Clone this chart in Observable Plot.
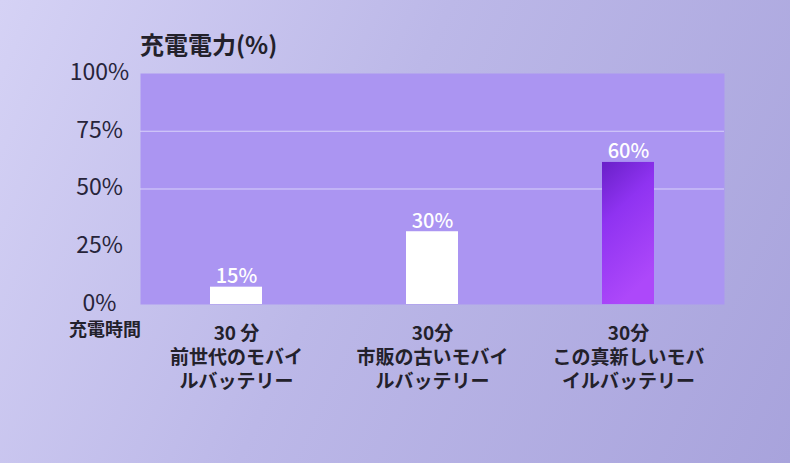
<!DOCTYPE html>
<html>
<head>
<meta charset="utf-8">
<script src="https://cdn.jsdelivr.net/npm/d3@7"></script>
<script src="https://cdn.jsdelivr.net/npm/@observablehq/plot@0.6"></script>
<style>
  html, body { margin: 0; padding: 0; }
  body { width: 790px; height: 463px; overflow: hidden; }
  #wrap {
    position: relative; width: 790px; height: 463px;
    background: linear-gradient(115deg, #d5d2f5 0%, #bcb8e8 45%, #a8a3dc 100%);
    font-family: "Noto Sans CJK JP", "Noto Sans", sans-serif;
  }
  #title {
    position: absolute; left: 140px; top: 28px; margin: 0;
    font-size: 24px; font-weight: 700; color: #23212b; line-height: 32px;
  }
  #xname {
    position: absolute; right: 649px; top: 316px; margin: 0;
    font-size: 18px; font-weight: 700; color: #23212b; line-height: 24px;
  }
  #chart { position: absolute; left: 0; top: 0; }
  svg { background: transparent !important; }
</style>
</head>
<body>
<div id="wrap">
  <div id="chart"></div>
  <p id="title">充電電力(%)</p>
  <p id="xname">充電時間</p>
</div>
<script>
const categories = ["前世代", "市販の古い", "この真新しい"];
const xLabels = ["30 分\n前世代のモバイ\nルバッテリー", "30分\n市販の古いモバイ\nルバッテリー", "30分\nこの真新しいモバ\nイルバッテリー"];
const valueLabels = ["15%", "30%", "60%"];
const barHeights = [7.5, 31.5, 61.5];
const yTicks = [0, 25, 50, 75, 100];
const gridTicks = [50, 75];

const data = categories.map((c, i) => ({cat: c, h: barHeights[i], label: valueLabels[i], i}));

const chart = Plot.plot({
  width: 790,
  height: 463,
  marginLeft: 140,
  marginRight: 66,
  marginTop: 73,
  marginBottom: 159,
  style: {background: "transparent", fontFamily: "'Noto Sans CJK JP', 'Noto Sans', sans-serif"},
  x: {domain: categories, paddingInner: 0.7347, paddingOuter: 0.357, axis: null, label: null},
  y: {domain: [0, 100], axis: null, label: null},
  marks: [
    Plot.frame({fill: "#ab95f2", stroke: null}),
    Plot.gridY(gridTicks, {stroke: "#d9d2fa", strokeOpacity: 1, strokeWidth: 1}),
    Plot.barY(data, {x: "cat", y: "h", fill: d => d.i === 2 ? "url(#purpleGrad)" : "#ffffff"}),
    Plot.text(data, {x: "cat", y: "h", text: "label", lineAnchor: "bottom", dy: -4, fill: "#ffffff", fontSize: 20, fontWeight: 500}),
    Plot.axisY(yTicks, {label: null, tickSize: 0, tickPadding: 41, textAnchor: "middle", tickFormat: d => d + "%", fontSize: 23, fontWeight: 400, fill: "#27243a", dy: -1}),
    Plot.axisX(categories, {label: null, tickSize: 0, tickPadding: 19, tickFormat: d => xLabels[categories.indexOf(d)], fontSize: 19, fontWeight: 700, fill: "#23212b", lineHeight: 1.25})
  ]
});

const svg = d3.select(chart);
const defs = svg.insert("defs", ":first-child");
const g = defs.append("linearGradient").attr("id", "purpleGrad")
  .attr("x1", "0").attr("y1", "0").attr("x2", "0.35").attr("y2", "1");
g.append("stop").attr("offset", "0").attr("stop-color", "#6920c8");
g.append("stop").attr("offset", "0.4").attr("stop-color", "#8f33f1");
g.append("stop").attr("offset", "1").attr("stop-color", "#ad48fa");

document.getElementById("chart").appendChild(chart);
</script>
</body>
</html>
